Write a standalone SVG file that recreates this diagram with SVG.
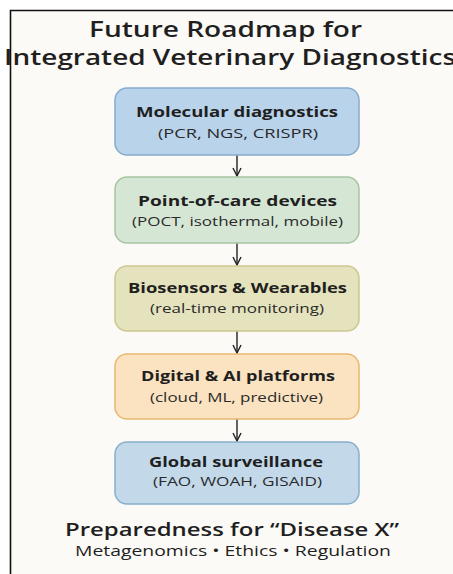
<svg xmlns="http://www.w3.org/2000/svg" width="453" height="574" viewBox="0 0 453 574">
<defs>
<style>
.t{font-family:"Open Sans","Liberation Sans",sans-serif;fill:#1f1f1f;text-anchor:start}
.title{font-size:22px;font-weight:600}
.h{font-size:15px;font-weight:700}
.s{font-size:13.5px;font-weight:400;fill:#2a2a2a}
.box{stroke-width:1.5}
.con{stroke:#222;stroke-width:1.4;fill:none}
</style>
<marker id="ah" viewBox="0 0 10 10" refX="9" refY="5" markerWidth="10" markerHeight="10" markerUnits="userSpaceOnUse" orient="auto">
<path d="M1,1 L9,5 L1,9" fill="none" stroke="#222" stroke-width="1.4"/>
</marker>
</defs>
<rect x="0" y="0" width="453" height="574" fill="#ffffff"/>
<rect x="10.5" y="10.5" width="450" height="570" fill="#fcfaf6"/>
<path d="M10.5,574 L10.5,10.5 L453,10.5" fill="none" stroke="#111" stroke-width="1.6"/>
<g id="title">
<text class="t title" x="89" y="37" textLength="273" lengthAdjust="spacingAndGlyphs">Future Roadmap for</text>
<text class="t title" x="4" y="65" textLength="452" lengthAdjust="spacingAndGlyphs">Integrated Veterinary Diagnostics</text>
</g>
<g id="connectors">
<line class="con" x1="237" y1="155" x2="237" y2="176" marker-end="url(#ah)"/>
<line class="con" x1="237" y1="243" x2="237" y2="265" marker-end="url(#ah)"/>
<line class="con" x1="237" y1="331" x2="237" y2="353" marker-end="url(#ah)"/>
<line class="con" x1="237" y1="419" x2="237" y2="441" marker-end="url(#ah)"/>
</g>
<g id="n1">
<rect class="box" x="115" y="88" width="244" height="67" rx="12" fill="#b9d3ea" stroke="#86abce"/>
<text class="t h" x="136" y="117" textLength="202" lengthAdjust="spacingAndGlyphs">Molecular diagnostics</text>
<text class="t s" x="158" y="138" textLength="160" lengthAdjust="spacingAndGlyphs">(PCR, NGS, CRISPR)</text>
</g>
<g id="n2">
<rect class="box" x="115" y="177" width="244" height="66" rx="12" fill="#d6e6d4" stroke="#a6c3a2"/>
<text class="t h" x="138" y="206" textLength="199" lengthAdjust="spacingAndGlyphs">Point-of-care devices</text>
<text class="t s" x="132" y="226" textLength="211" lengthAdjust="spacingAndGlyphs">(POCT, isothermal, mobile)</text>
</g>
<g id="n3">
<rect class="box" x="115" y="266" width="244" height="65" rx="12" fill="#e5e3bd" stroke="#cbc78f"/>
<text class="t h" x="128" y="293" textLength="219" lengthAdjust="spacingAndGlyphs">Biosensors &amp; Wearables</text>
<text class="t s" x="150" y="313" textLength="174" lengthAdjust="spacingAndGlyphs">(real-time monitoring)</text>
</g>
<g id="n4">
<rect class="box" x="115" y="354" width="244" height="65" rx="12" fill="#fbe3c1" stroke="#e9b870"/>
<text class="t h" x="141" y="381" textLength="194" lengthAdjust="spacingAndGlyphs">Digital &amp; AI platforms</text>
<text class="t s" x="150" y="402" textLength="173" lengthAdjust="spacingAndGlyphs">(cloud, ML, predictive)</text>
</g>
<g id="n5">
<rect class="box" x="115" y="442" width="244" height="62" rx="12" fill="#c3d9ea" stroke="#88afcc"/>
<text class="t h" x="149" y="467" textLength="174" lengthAdjust="spacingAndGlyphs">Global surveillance</text>
<text class="t s" x="153" y="486" textLength="169" lengthAdjust="spacingAndGlyphs">(FAO, WOAH, GISAID)</text>
</g>
<g id="footer">
<text class="t" x="65" y="536" font-size="18" font-weight="600" textLength="334" lengthAdjust="spacingAndGlyphs">Preparedness for “Disease X”</text>
<text class="t" x="75" y="556" font-size="14" fill="#2a2a2a" textLength="316" lengthAdjust="spacingAndGlyphs">Metagenomics • Ethics • Regulation</text>
</g>
</svg>
